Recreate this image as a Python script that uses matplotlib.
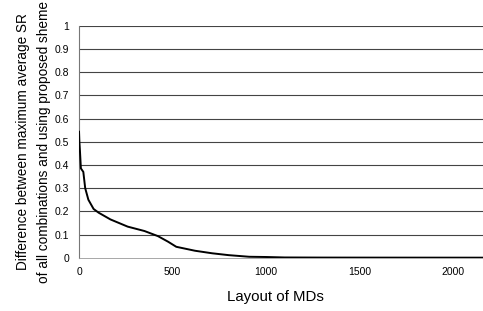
import matplotlib
matplotlib.use("Agg")
import matplotlib.pyplot as plt

plt.rcParams['font.family'] = ['Liberation Sans', 'DejaVu Sans']

# curve
layout = [0, 2, 5, 10, 23, 33, 50, 78, 105, 168, 260, 350, 422, 476, 520,
          620, 712, 800, 910, 1000, 1100, 1300, 1600, 1900, 2160]
diff = [0.543, 0.50, 0.46, 0.385, 0.37, 0.30, 0.25, 0.21, 0.194, 0.165, 0.134,
        0.115, 0.093, 0.069, 0.047, 0.030, 0.019, 0.011, 0.004, 0.003, 0.001,
        0.0005, 0.0003, 0.0002, 0.0001]
xticks = [0, 500, 1000, 1500, 2000]
yticks = [0, 0.1, 0.2, 0.3, 0.4, 0.5, 0.6, 0.7, 0.8, 0.9, 1]
ylabels = ['0', '0.1', '0.2', '0.3', '0.4', '0.5', '0.6', '0.7', '0.8', '0.9', '1']

fig = plt.figure(figsize=(4.83, 3.11), dpi=100)
ax = fig.add_axes([0.1636, 0.1714, 0.8364, 0.7457])

for y in yticks[1:]:
    ax.axhline(y, color='#444444', lw=0.8, zorder=1)
ax.plot(layout, diff, color='black', lw=1.4, zorder=3)

ax.set_xlim(0, 2160)
ax.set_ylim(0, 1)
ax.set_xticks(xticks)
ax.set_yticks(yticks)
ax.set_yticklabels(ylabels)
ax.tick_params(length=0, labelsize=7.5, pad=7)
for s in ['top', 'right']:
    ax.spines[s].set_visible(False)
ax.spines['left'].set_color('#777777')
ax.spines['bottom'].set_color('#999999')
ax.spines['bottom'].set_linewidth(0.6)

ax.set_xlabel('Layout of MDs', fontsize=10.8)
ax.xaxis.set_label_coords(0.485, -0.14)
ax.set_ylabel('Difference between maximum average SR\nof all combinations and using proposed sheme',
              fontsize=9.8, linespacing=1.6)
ax.yaxis.set_label_coords(-0.07, 0.5)

fig.savefig('out.png', dpi=100)
